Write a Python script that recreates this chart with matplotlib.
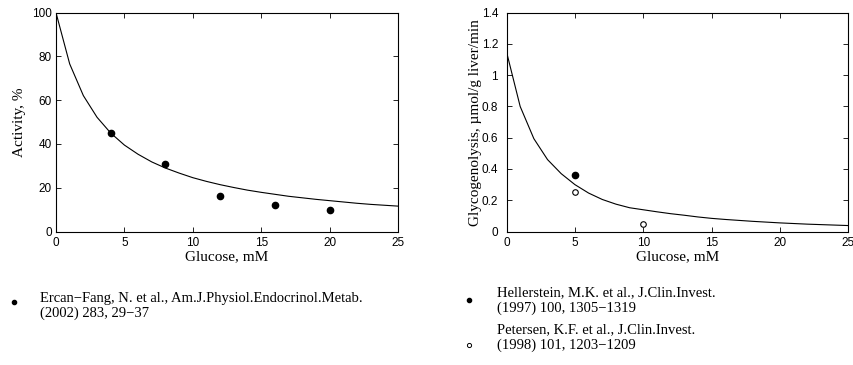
import numpy as np
import matplotlib.pyplot as plt

# Model curves, evaluated at integer glucose concentrations (mM)
glucose_grid = list(range(26))
activity_model = [100, 76.6, 62.1, 52.2, 45.0, 39.5, 35.3, 31.8, 29.0, 26.7,
                  24.6, 22.9, 21.4, 20.1, 18.9, 17.9, 17.0, 16.1, 15.4, 14.7,
                  14.1, 13.5, 12.9, 12.4, 12.0, 11.6]
glyco_model = [1.15, 0.80, 0.594, 0.46, 0.37, 0.30, 0.246, 0.205, 0.175, 0.152,
               0.139, 0.126, 0.114, 0.104, 0.093, 0.084, 0.077, 0.071, 0.065, 0.060,
               0.055, 0.051, 0.047, 0.044, 0.041, 0.038]

# Experimental data
ercan_glucose = [4, 8, 12, 16, 20]
ercan_activity = [45, 31, 16, 12, 10]
heller_glucose = [5]
heller_glyco = [0.36]
petersen_glucose = [5, 10]
petersen_glyco = [0.25, 0.05]

# Literature sources
ercan_ref = ['Ercan\u2212Fang, N. et al., Am.J.Physiol.Endocrinol.Metab.', '(2002) 283, 29\u221237']
heller_ref = ['Hellerstein, M.K. et al., J.Clin.Invest.', '(1997) 100, 1305\u22121319']
petersen_ref = ['Petersen, K.F. et al., J.Clin.Invest.', '(1998) 101, 1203\u22121209']

serif = ['Liberation Serif', 'DejaVu Serif']
sans = ['Liberation Sans', 'DejaVu Sans']

W, H = 854, 365
fig = plt.figure(figsize=(W / 100, H / 100), dpi=100)


def make_axes(x0, x1, top, bottom, ypad):
    ax = fig.add_axes([x0 / W, 1 - bottom / H, (x1 - x0) / W, (bottom - top) / H])
    ax.tick_params(direction='in', top=True, right=True, length=3.5, width=0.6,
                   labelsize=8.5)
    ax.tick_params(axis='x', pad=4)
    ax.tick_params(axis='y', pad=ypad)
    for s in ax.spines.values():
        s.set_linewidth(0.8)
    return ax


def sans_ticks(ax):
    for lab in ax.get_xticklabels() + ax.get_yticklabels():
        lab.set_family(sans)


def reference(x_marker, y_marker, filled, x_text, baselines, lines):
    if filled:
        m = plt.Line2D([x_marker / W], [1 - y_marker / H], marker='o', color='black',
                       ms=3, transform=fig.transFigure)
    else:
        m = plt.Line2D([x_marker / W], [1 - y_marker / H], marker='o', mfc='white',
                       mec='black', mew=0.7, ms=3, transform=fig.transFigure)
    fig.lines.append(m)
    for yb, line in zip(baselines, lines):
        fig.text(x_text / W, 1 - yb / H, line, family=serif, fontsize=10.5, va='baseline')


# Left panel: enzyme activity
ax1 = make_axes(56, 398, 12.7, 231.5, 3)
ax1.plot(glucose_grid, activity_model, color='black', lw=0.8)
ax1.plot(ercan_glucose, ercan_activity, 'o', color='black', ms=4.5)
ax1.set_xlim(0, 25)
ax1.set_ylim(0, 100)
ax1.set_xticks([0, 5, 10, 15, 20, 25])
ax1.set_yticks([0, 20, 40, 60, 80, 100])
sans_ticks(ax1)
ax1.set_xlabel('Glucose, mM', family=serif, fontsize=11, labelpad=1)
ax1.set_ylabel('Activity, %', family=serif, fontsize=11, labelpad=4)

# Right panel: glycogenolysis rate
ax2 = make_axes(506.5, 848.5, 12.7, 231.5, 6)
ax2.plot(glucose_grid, glyco_model, color='black', lw=0.8)
ax2.plot(heller_glucose, heller_glyco, 'o', color='black', ms=4.5)
ax2.plot(petersen_glucose, petersen_glyco, 'o', mfc='white', mec='black', mew=0.8, ms=4)
ax2.set_xlim(0, 25)
ax2.set_ylim(0, 1.4)
ax2.set_xticks([0, 5, 10, 15, 20, 25])
ax2.set_yticks([0, 0.2, 0.4, 0.6, 0.8, 1.0, 1.2, 1.4])
ax2.set_yticklabels(['0', '0.2', '0.4', '0.6', '0.8', '1', '1.2', '1.4'])
sans_ticks(ax2)
ax2.set_xlabel('Glucose, mM', family=serif, fontsize=11, labelpad=1)
ax2.set_ylabel('Glycogenolysis, \u00b5mol/g liver/min', family=serif, fontsize=11, labelpad=0)

# References below the panels
reference(14, 302, True, 40, [302, 316.5], ercan_ref)
reference(469, 300, True, 497, [296, 311.5], heller_ref)
reference(469, 345, False, 497, [333, 349], petersen_ref)

fig.savefig('out.png', dpi=100)
